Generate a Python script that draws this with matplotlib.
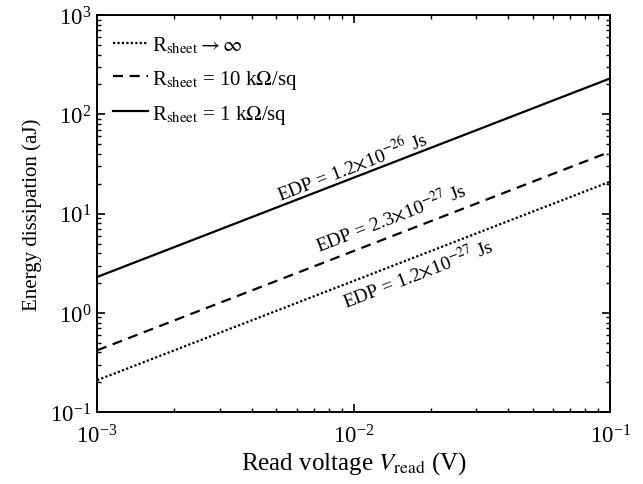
import matplotlib
matplotlib.use("Agg")
import matplotlib.pyplot as plt

plt.rcParams["font.family"] = "Liberation Serif"
plt.rcParams["mathtext.fontset"] = "stix"

# read voltage (V) and energy dissipation (aJ)
v_read = [1e-3, 1e-2, 1e-1]
e_inf = [0.21, 2.1, 21]
e_10k = [0.42, 4.2, 42]
e_1k = [2.3, 23, 230]

labels = [r"R$_{\rm sheet}\rightarrow\infty$",
          r"R$_{\rm sheet}$ = 10 k$\Omega$/sq",
          r"R$_{\rm sheet}$ = 1 k$\Omega$/sq"]
edp_text = [r"EDP = 1.2$\times$10$^{-27}$ Js",
            r"EDP = 2.3$\times$10$^{-27}$ Js",
            r"EDP = 1.2$\times$10$^{-26}$ Js"]
edp_pos = [(0.0178, 2.55), (0.0139, 9.4), (0.0098, 31.0)]

fig = plt.figure(figsize=(6.43, 4.85), dpi=100)
ax = fig.add_axes([0.151, 0.148, 0.798, 0.819])

ax.plot(v_read, e_inf, color="black", lw=1.6, ls=(0, (1, 1)), label=labels[0])
ax.plot(v_read, e_10k, color="black", lw=1.6, ls=(0, (4.5, 3)), label=labels[1])
ax.plot(v_read, e_1k, color="black", lw=1.6, ls="-", label=labels[2])

for txt, (x, y) in zip(edp_text, edp_pos):
    ax.text(x, y, txt, rotation=21, ha="center", va="center", fontsize=14)

ax.set_xscale("log")
ax.set_yscale("log")
ax.set_xlim(1e-3, 1e-1)
ax.set_ylim(1e-1, 1e3)
ax.tick_params(which="both", direction="in", top=True, right=True, labelsize=16.5)
ax.tick_params(which="major", length=6, width=1.2)
ax.tick_params(which="minor", length=3, width=1)
ax.tick_params(axis="x", pad=9)
ax.tick_params(axis="y", pad=4)
for s in ax.spines.values():
    s.set_linewidth(1.4)

ax.set_xlabel(r"Read voltage $V_{\rm read}$ (V)", fontsize=18, labelpad=1)
ax.set_ylabel("Energy dissipation (aJ)", fontsize=15, labelpad=6)
ax.legend(loc="upper left", bbox_to_anchor=(0.018, 0.966), frameon=False,
          fontsize=15, handlelength=1.7, handletextpad=0.2,
          labelspacing=0.58, borderaxespad=0, borderpad=0.3)

fig.savefig("out.png", dpi=100)
